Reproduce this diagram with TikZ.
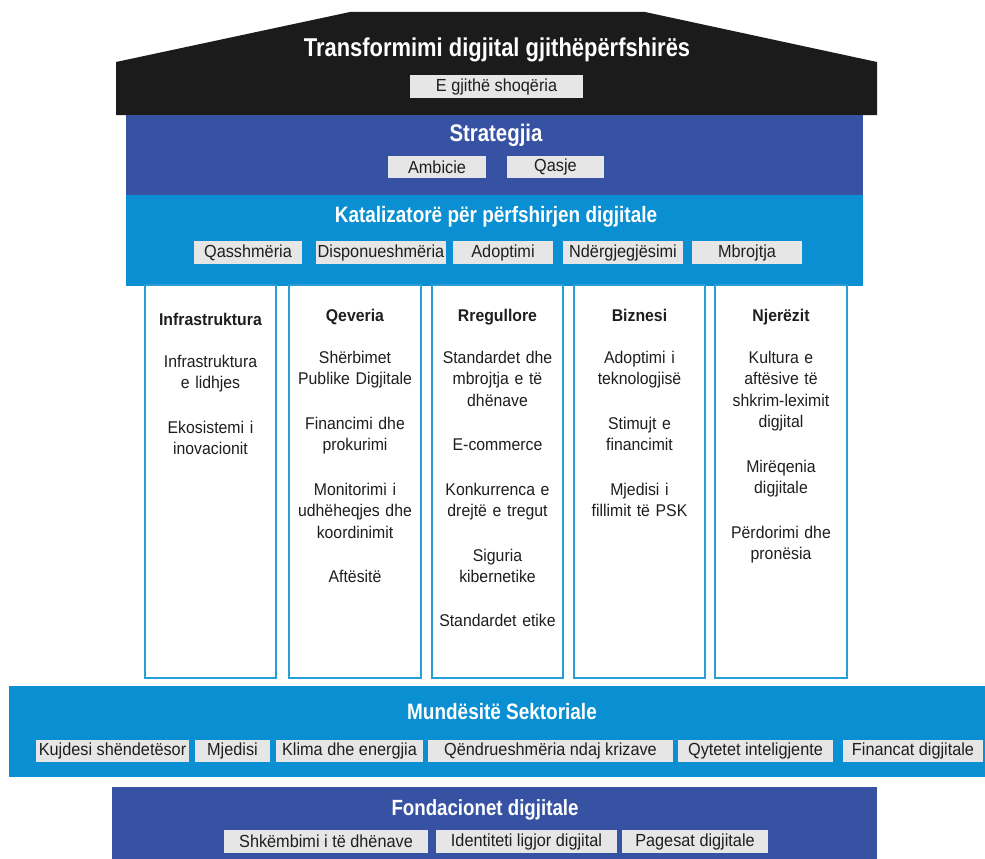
\documentclass[tikz,border=0pt]{standalone}
\usepackage{fontspec}
\setmainfont{Liberation Sans}[FakeStretch=0.93]
\newfontfamily\titlefont{Liberation Sans Bold}[FakeStretch=0.85]
\begin{document}
\begin{tikzpicture}[x=1pt,y=-1pt,
  darkband/.style={fill=stratblue,draw=none},
  lightband/.style={fill=katblue,draw=none},
  gbox/.style={fill=boxgray,draw=none,inner sep=0pt,text=txtdark,font=\fontsize{17.5}{20}\selectfont,minimum height=23pt},
  bandtitle/.style={text=white,inner sep=0pt},
  colframe/.style={draw=colblue,line width=2pt,fill=white},
  coltext/.style={anchor=north,align=center,inner sep=0pt,text=txtdark,font=\fontsize{17}{21.5}\selectfont,text width=130pt},
]
\definecolor{stratblue}{HTML}{3752A2}
\definecolor{katblue}{HTML}{0A8FD2}
\definecolor{boxgray}{HTML}{E6E6E7}
\definecolor{txtdark}{HTML}{1E1E1E}
\definecolor{colblue}{HTML}{2A9CD8}
\definecolor{roofblack}{HTML}{1B1B1B}
\useasboundingbox (0,0) rectangle (985,859);

% roof
\fill[roofblack] (116,115) -- (116,62) -- (350,12) -- (645,12) -- (877,62) -- (877,115) -- cycle;
\node[bandtitle,font=\titlefont\fontsize{25.8}{30}\selectfont] (roof) at (497,50) {Transformimi digjital gjithëpërfshirës};
\node[gbox,minimum width=173pt] (shoq) at (496.5,86.5) {E gjithë shoqëria};

% strategy
\fill[darkband] (126,115) rectangle (863,195);
\node[bandtitle,font=\titlefont\fontsize{24}{26}\selectfont] (strat) at (496,135) {Strategjia};
\node[gbox,minimum width=98pt,minimum height=22pt] (amb) at (437,167) {Ambicie};
\node[gbox,minimum width=97pt,minimum height=22pt] (qasje) at (555.5,167) {Qasje};

% catalysts
\fill[lightband] (126,195) rectangle (863,286);
\node[bandtitle,font=\titlefont\fontsize{22.3}{24}\selectfont] (kat) at (496,217) {Katalizatorë për përfshirjen digjitale};
\node[gbox,minimum width=108pt] (k1) at (248,252.5) {Qasshmëria};
\node[gbox,minimum width=130pt] (k2) at (381,252.5) {Disponueshmëria};
\node[gbox,minimum width=100pt] (k3) at (503,252.5) {Adoptimi};
\node[gbox,minimum width=120pt] (k4) at (623,252.5) {Ndërgjegjësimi};
\node[gbox,minimum width=110pt] (k5) at (747,252.5) {Mbrojtja};

% columns
\draw[colframe] (145,285) rectangle (276,678);
\draw[colframe] (289,285) rectangle (421,678);
\draw[colframe] (432,285) rectangle (563,678);
\draw[colframe] (574,285) rectangle (705,678);
\draw[colframe] (715,285) rectangle (847,678);

\node[coltext] (c1) at (210.5,313) {\textbf{Infrastruktura}\\[20pt]Infrastruktura\\e lidhjes\\[23pt]Ekosistemi i\\inovacionit};
\node[coltext] (c2) at (355,309) {\textbf{Qeveria}\\[20pt]Shërbimet\\Publike Digjitale\\[23pt]Financimi dhe\\prokurimi\\[23pt]Monitorimi i\\udhëheqjes dhe\\koordinimit\\[23pt]Aftësitë};
\node[coltext] (c3) at (497.5,309) {\textbf{Rregullore}\\[20pt]Standardet dhe\\mbrojtja e të\\dhënave\\[23pt]E-commerce\\[23pt]Konkurrenca e\\drejtë e tregut\\[23pt]Siguria\\kibernetike\\[22pt]Standardet etike};
\node[coltext] (c4) at (639.5,309) {\textbf{Biznesi}\\[20pt]Adoptimi i\\teknologjisë\\[23pt]Stimujt e\\financimit\\[23pt]Mjedisi i\\fillimit të PSK};
\node[coltext] (c5) at (781,309) {\textbf{Njerëzit}\\[20pt]Kultura e\\aftësive të\\shkrim-leximit\\digjital\\[23pt]Mirëqenia\\digjitale\\[23pt]Përdorimi dhe\\pronësia};

% sectoral
\fill[lightband] (9,686) rectangle (985,777);
\node[bandtitle,font=\titlefont\fontsize{22.3}{24}\selectfont] (sek) at (502,712) {Mundësitë Sektoriale};
\node[gbox,minimum width=153pt,minimum height=22pt] (s1) at (112.5,751) {Kujdesi shëndetësor};
\node[gbox,minimum width=75pt,minimum height=22pt] (s2) at (232.5,751) {Mjedisi};
\node[gbox,minimum width=147pt,minimum height=22pt] (s3) at (349.5,751) {Klima dhe energjia};
\node[gbox,minimum width=245pt,minimum height=22pt] (s4) at (550.5,751) {Qëndrueshmëria ndaj krizave};
\node[gbox,minimum width=155pt,minimum height=22pt] (s5) at (755.5,751) {Qytetet inteligjente};
\node[gbox,minimum width=140pt,minimum height=22pt] (s6) at (913,751) {Financat digjitale};

% foundations
\fill[darkband] (112,787) rectangle (877,859);
\node[bandtitle,font=\titlefont\fontsize{22}{24}\selectfont] (fond) at (485,810) {Fondacionet digjitale};
\node[gbox,minimum width=204pt] (f1) at (326,841.5) {Shkëmbimi i të dhënave};
\node[gbox,minimum width=181pt] (f2) at (526.5,841.5) {Identiteti ligjor digjital};
\node[gbox,minimum width=146pt] (f3) at (695,841.5) {Pagesat digjitale};
\end{tikzpicture}
\end{document}
